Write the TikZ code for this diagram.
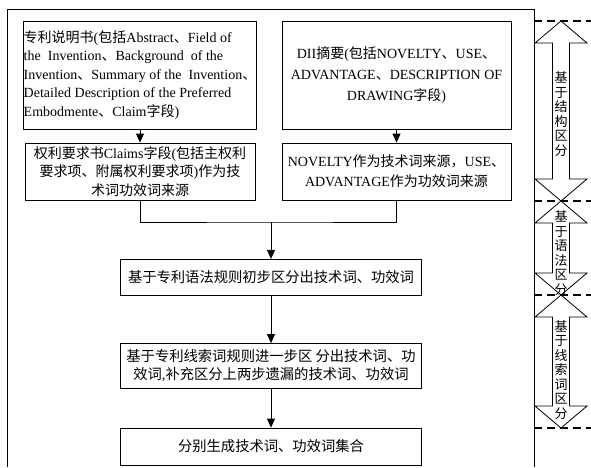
\documentclass[tikz,border=0pt]{standalone}
\usepackage{fontspec}
\setmainfont{Liberation Serif}
\newfontfamily\cjk{Noto Sans CJK SC}
\usetikzlibrary{arrows.meta}
\newcommand\zh[1]{{\cjk #1}}

\begin{document}
\begin{tikzpicture}[x=1pt, y=-1pt, >={Triangle[length=9pt,width=8pt]},
  every node/.style = {inner sep=0pt},
  box/.style = {shape=rectangle, draw, line width=0.8pt, align=center,
    font=\fontsize{14}{18.5}\selectfont},
  widebox/.style = {box, minimum width=301pt, font=\cjk\fontsize{14.3}{18}\selectfont},
  side/.style = {align=center, font=\cjk\fontsize{13}{14.5}\selectfont},
  line/.style = {line width=0.8pt},
  dashline/.style = {line width=1.4pt, dash pattern=on 8pt off 5pt}]
  \useasboundingbox (0,0) rectangle (591,467);
  % frame
  \draw[line] (7,467) |- (534,9) -- (534,467);
  % left column
  \node[box, align=left, minimum width=230pt, minimum height=108pt] (spec) at (140,75)
    {\zh{专利说明书}(\zh{包括}Abstract\zh{、}Field of\\
     the\ \ Invention\zh{、}Background\ \ of the\\
     Invention\zh{、}Summary of the\ \ Invention\zh{、}\\
     Detailed Description of the Preferred\\
     Embodmente\zh{、}Claim\zh{字段})};
  \node[box, minimum width=230pt, minimum height=57pt] (claims) at (140,171.5)
    {\zh{权利要求书}Claims\zh{字段}(\zh{包括主权利}\\
     \zh{要求项、附属权利要求项})\zh{作为技}\\
     \zh{术词功效词来源}};
  % right column
  \node[box, minimum width=229pt, minimum height=108pt, font=\fontsize{14}{21}\selectfont] (dii) at (396.5,75)
    {DII\zh{摘要}(\zh{包括}NOVELTY\zh{、}USE\zh{、}\\
     ADVANTAGE\zh{、}DESCRIPTION OF\\
     DRAWING\zh{字段})};
  \node[box, minimum width=229pt, minimum height=57pt, font=\fontsize{14}{20}\selectfont] (novelty) at (396.5,171.5)
    {NOVELTY\zh{作为技术词来源，}USE\zh{、}\\
     ADVANTAGE\zh{作为功效词来源}};
  % middle steps
  \node[widebox, minimum height=36.5pt] (grammar) at (271,277.5) {基于专利语法规则初步区分出技术词、功效词};
  \node[widebox, minimum height=45pt] (clue) at (271,366)
    {基于专利线索词规则进一步区 分出技术词、功\\效词{\rmfamily,}补充区分上两步遗漏的技术词、功效词};
  \node[widebox, minimum height=37pt] (result) at (271,446.5) {分别生成技术词、功效词集合};
  \coordinate (join) at (271,222);
  \draw[line,->] (spec) -- (claims);
  \draw[line,->] (dii) -- (novelty);
  \draw[line] (claims.south) |- (join) -| (novelty.south);
  \draw[line,->] (join) -- (grammar);
  \draw[line,->] (grammar) -- (clue);
  \draw[line,->] (clue) -- (result);
  % stages on the right
  \foreach \y in {21,201,295,428}
    \draw[dashline] (534,\y) -- (591,\y);
  \foreach \ya/\yb in {21/201, 201/295, 295/428}
    \draw[line] (561,\ya) -- (587,\ya+22) -- (569.5,\ya+22) -- (569.5,\yb-22) -- (587,\yb-22)
      -- (561,\yb) -- (535,\yb-22) -- (552.5,\yb-22) -- (552.5,\ya+22) -- (535,\ya+22) -- cycle;
  \node[side] (stage1) at (561,114) {基\\于\\结\\构\\区\\分};
  \node[side] (stage2) at (561,253) {基\\于\\语\\法\\区\\分};
  \node[side] (stage3) at (561,370) {基\\于\\线\\索\\词\\区\\分};
\end{tikzpicture}
\end{document}
